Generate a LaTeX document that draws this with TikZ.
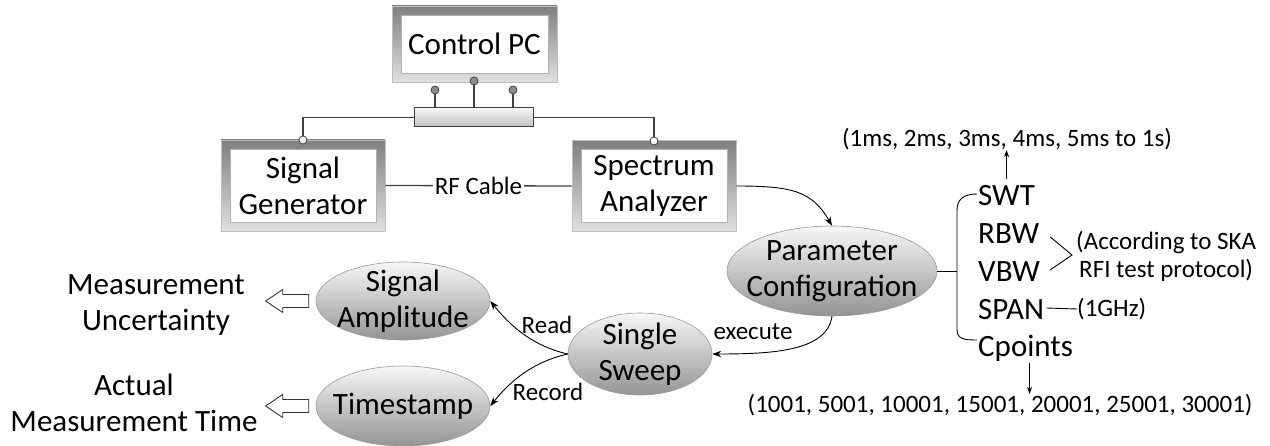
\documentclass[tikz,border=0pt]{standalone}
\usepackage{fontspec}
\setmainfont{Carlito}
\usetikzlibrary{shapes.geometric,arrows.meta,calc}
\begin{document}
\begin{tikzpicture}[x=1pt,y=-1pt,
  big/.style={font=\fontsize{31}{36}\selectfont},
  small/.style={font=\fontsize{25}{28}\selectfont},
  device/.style={rectangle, inner sep=0pt, align=center, big,
    draw=black!25, line width=0.6pt,
    path picture={
      \shade[top color=black!50, bottom color=black!12]
        (path picture bounding box.south west) rectangle (path picture bounding box.north east);
      \fill[white, draw=black!30, line width=0.6pt]
        ([shift={(9pt,9pt)}]path picture bounding box.south west) rectangle
        ([shift={(-9pt,-9pt)}]path picture bounding box.north east);
    }},
  stage/.style={ellipse, inner sep=0pt, draw=black!40, line width=0.6pt,
    top color=black!3, bottom color=black!42},
  stagetext/.style={big, align=center},
  hubbar/.style={rectangle, inner sep=0pt, draw=black!75, line width=1pt,
    top color=black!3, bottom color=black!25},
  pinup/.style={circle, inner sep=0pt, minimum size=8pt, fill=black!45,
    draw=black!75, line width=0.8pt},
  pinlow/.style={circle, inner sep=0pt, minimum size=8pt, fill=white,
    draw=black!75, line width=0.8pt},
  wire/.style={draw=black!75, line width=1.3pt},
  thinline/.style={draw=black, line width=0.9pt},
  flow/.style={draw=black, line width=0.9pt, -{Stealth[length=9pt,width=6.5pt]}},
  flowsmall/.style={draw=black, line width=0.9pt, -{Stealth[length=7pt,width=5pt]}},
  hollow/.style={draw=black!80, fill=white, line width=0.9pt, line join=miter},
  item/.style={big, inner sep=0pt},
  note/.style={small, inner sep=0pt}]

\fill[white] (0,0) rectangle (1270,446);
\useasboundingbox (0,0) rectangle (1270,446);

% instruments
\node[device, minimum width=165pt, minimum height=76pt] (pc) at (474.5,44) {Control PC};
\node[device, minimum width=164pt, minimum height=91pt] (sg) at (303,185.5) {Signal\\Generator};
\node[device, minimum width=164pt, minimum height=91pt] (sa) at (654,186) {Spectrum\\Analyzer};

% control bus
\node[hubbar, minimum width=119pt, minimum height=19pt] (hub) at (473.5,117.5) {};
\coordinate (c1) at (435,90);
\coordinate (c2) at (474,81);
\coordinate (c3) at (513,90);
\coordinate (d1) at (303,140);
\coordinate (d2) at (654,141);
\draw[wire] (c1) -- (c1 |- hub.north);
\draw[wire] (c2) -- (c2 |- hub.north);
\draw[wire] (c3) -- (c3 |- hub.north);
\draw[wire] (hub.west) -| (d1);
\draw[wire] (hub.east) -| (d2);
\node[pinup] (p1) at (c1) {};
\node[pinup] (p2) at (c2) {};
\node[pinup] (p3) at (c3) {};
\node[pinlow] (q1) at (d1) {};
\node[pinlow] (q2) at (d2) {};

% RF link
\draw[wire] (sg.east) -- node[note, fill=white, inner sep=1.5pt] (rf) {RF Cable} (sa.west);

% measurement stages
\node[stage, minimum width=210pt, minimum height=90pt,
  label={[stagetext]center:Parameter\\Configuration}] (cfg) at (832,271) {};
\node[stage, minimum width=144pt, minimum height=82pt,
  label={[stagetext]center:Single\\Sweep}] (sweep) at (640,354) {};
\node[stage, minimum width=174pt, minimum height=78pt,
  label={[stagetext]center:Signal\\Amplitude}] (amp) at (403,301) {};
\node[stage, minimum width=174pt, minimum height=80pt,
  label={[stagetext]center:Timestamp}] (ts) at (403,406) {};

\draw[flow] (sa.east) .. controls +(55,0) and +(-20,-35) .. (cfg.north);
\draw[flow] (cfg.south) .. controls +(-5,35) and +(60,0) .. (sweep.east);
\draw[flow] (sweep.west) .. controls +(-35,-8) and +(20,25) .. (amp.east);
\draw[flow] (sweep.west) .. controls +(-35,8) and +(20,-25) .. (ts.east);
\node[note] (lexec) at (753,332) {execute};
\node[note] (lread) at (547,325) {Read};
\node[note] (lrec) at (548,392) {Record};

% results
\node[big, align=center] (unc) at (156,305) {Measurement\\Uncertainty};
\node[big, align=center] (amt) at (134,403) {Actual\\Measurement Time};
\draw[hollow] ($(amp.west)+(-7,-6.5)$) -- ++(-26,0) -- ++(0,-5) -- ++(-17,11.5)
  -- ++(17,11.5) -- ++(0,-5) -- ++(26,0) -- cycle;
\draw[hollow] ($(ts.west)+(-7,-6.5)$) -- ++(-26,0) -- ++(0,-5) -- ++(-17,11.5)
  -- ++(17,11.5) -- ++(0,-5) -- ++(26,0) -- cycle;

% parameter list
\node[item, anchor=base west] (swt) at (978,206) {SWT};
\node[item, anchor=base west] (rbw) at (978,244) {RBW};
\node[item, anchor=base west] (vbw) at (978,282) {VBW};
\node[item, anchor=base west] (span) at (978,320) {SPAN};
\node[item, anchor=base west] (cpt) at (978,357) {Cpoints};

\coordinate (bm) at (957,271);
\draw[thinline] (cfg.east) -- (bm);
\draw[thinline] ($(swt.base west)+(-1,-12)$) .. controls +(-14,0) and +(0,-10) .. (957,210)
  -- (957,329) .. controls +(0,10) and +(-14,0) .. ($(cpt.base west)+(-1,-17)$);

\node[note] (ms) at (1007,139) {(1ms, 2ms, 3ms, 4ms, 5ms to 1s)};
\draw[flowsmall] ($(swt.base)+(0,-27)$) -- (ms.south -| swt.base);

\node[note, align=center, anchor=west] (proto) at (1076,256) {(According to SKA\\RFI test protocol)};
\coordinate (gt) at (1072,255);
\draw[thinline] ($(rbw.base east)+(11,-7)$) -- (gt) -- ($(vbw.base east)+(10,-12)$);

\node[note, anchor=west] (ghz) at (1077,309) {(1GHz)};
\draw[thinline] ($(span.base east)+(2,-12)$) -- (ghz.west);

\node[note] (pts) at (1000,405) {(1001, 5001, 10001, 15001, 20001, 25001, 30001)};
\coordinate (cdn) at ($(cpt.base)+(4,6)$);
\draw[flowsmall] (cdn) -- (cdn |- pts.north);
\end{tikzpicture}
\end{document}
